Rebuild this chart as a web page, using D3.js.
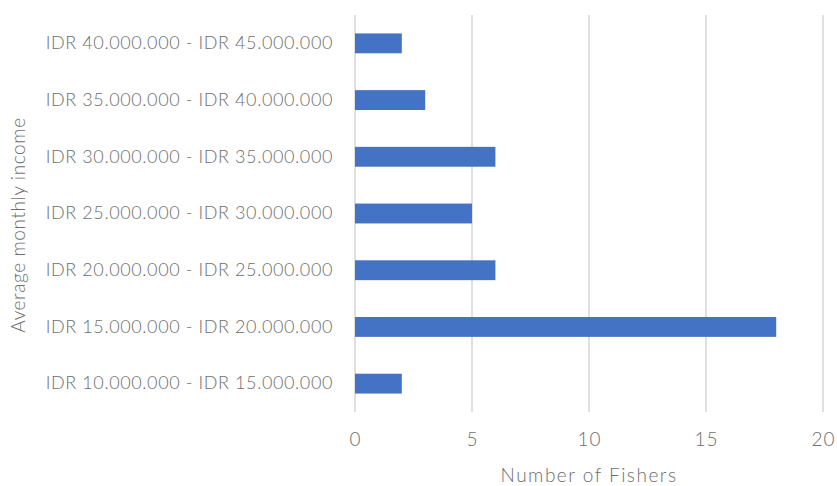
<!DOCTYPE html>
<html>
<head>
<meta charset="utf-8">
<script src="https://cdn.jsdelivr.net/npm/d3@7"></script>
<style>
  html, body { margin: 0; padding: 0; background: #fff; }
  svg { display: block; }
  text { font-family: Lato, "Open Sans", sans-serif; font-weight: 300; fill: #6e6e6e; }
</style>
</head>
<body>
<svg id="chart" width="837" height="486"></svg>
<script>
// Income brackets (bottom to top as listed in the chart) and fisher counts
const categories = [
  "IDR 10.000.000 - IDR 15.000.000",
  "IDR 15.000.000 - IDR 20.000.000",
  "IDR 20.000.000 - IDR 25.000.000",
  "IDR 25.000.000 - IDR 30.000.000",
  "IDR 30.000.000 - IDR 35.000.000",
  "IDR 35.000.000 - IDR 40.000.000",
  "IDR 40.000.000 - IDR 45.000.000"
];
const fishers = [2, 18, 6, 5, 6, 3, 2];
const xTicks = [0, 5, 10, 15, 20];
const xTitle = "Number of Fishers";
const yTitle = "Average monthly income";

const svg = d3.select("#chart");
const margin = { top: 15, right: 14, bottom: 74, left: 355 };
const W = 837, H = 486;
const innerW = W - margin.left - margin.right;
const innerH = H - margin.top - margin.bottom;

const g = svg.append("g").attr("transform", `translate(${margin.left},${margin.top})`);

const x = d3.scaleLinear().domain([0, 20]).range([0, innerW]);
const y = d3.scaleBand()
  .domain(categories.slice().reverse())
  .range([0, innerH])
  .paddingInner(0.65)
  .paddingOuter(0.325);

// vertical gridlines
g.append("g")
  .selectAll("line")
  .data(xTicks)
  .join("line")
  .attr("x1", d => x(d)).attr("x2", d => x(d))
  .attr("y1", 0).attr("y2", innerH)
  .attr("stroke", "#e0e0e0")
  .attr("stroke-width", 2);

// bars
g.append("g")
  .selectAll("rect")
  .data(categories.map((c, i) => ({ c, v: fishers[i] })))
  .join("rect")
  .attr("x", x(0))
  .attr("y", d => y(d.c))
  .attr("width", d => x(d.v) - x(0))
  .attr("height", y.bandwidth())
  .attr("fill", "#4472c4");

// x axis tick labels
const xAxis = d3.axisBottom(x).tickValues(xTicks).tickSize(0).tickPadding(21);
const xg = g.append("g").attr("transform", `translate(0,${innerH})`).call(xAxis);
xg.select(".domain").remove();
xg.selectAll("text")
  .style("font-size", "19px")
  .style("letter-spacing", "1px")
  .attr("fill", "#707070");

// y axis category labels
const yAxis = d3.axisLeft(y).tickSize(0).tickPadding(22);
const yg = g.append("g").call(yAxis);
yg.select(".domain").remove();
yg.selectAll("text")
  .style("font-size", "18px")
  .style("letter-spacing", "0.6px")
  .attr("fill", "#707070");

// axis titles
svg.append("text")
  .attr("x", margin.left + x(10))
  .attr("y", 482)
  .attr("text-anchor", "middle")
  .style("font-size", "19px")
  .style("letter-spacing", "1.5px")
  .attr("fill", "#707070")
  .text(xTitle);

svg.append("text")
  .attr("transform", `translate(25,225) rotate(-90)`)
  .attr("text-anchor", "middle")
  .style("font-size", "19px")
  .style("letter-spacing", "0.6px")
  .attr("fill", "#707070")
  .text(yTitle);
</script>
</body>
</html>
